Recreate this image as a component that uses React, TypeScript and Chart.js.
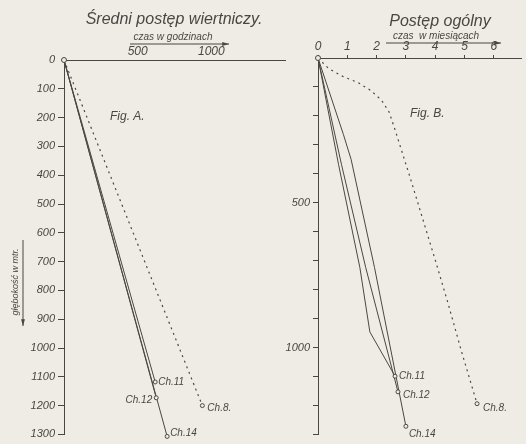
import React, { useEffect, useRef } from 'react';
import { Chart, registerables } from 'chart.js';

Chart.register(...registerables);

// ---------- data ----------
const wells = ['Ch.8.', 'Ch.11', 'Ch.12', 'Ch.14'];

// Fig. A – average drilling progress (hours vs depth, straight from origin)
const hoursA = [939, 619, 626, 700];
const depthA = [1200, 1118, 1173, 1307];

// Fig. B – overall progress (months vs depth)
const ch8Months = [0, 0.37, 0.87, 1.37, 1.8, 2.17, 2.43, 2.63, 3.13, 3.57, 4.03, 4.43, 4.9, 5.43];
const ch8Depth = [0, 37, 65, 85, 112, 146, 187, 248, 408, 554, 707, 844, 1014, 1194];
const ch11Months = [0, 0.7, 1.43, 1.77, 2.63];
const ch11Depth = [0, 367, 724, 946, 1099];
const ch12Months = [0, 0.8, 1.63, 2.73];
const ch12Depth = [0, 367, 724, 1153];
const ch14Months = [0, 0.87, 1.13, 1.93, 3.0];
const ch14Depth = [0, 265, 350, 724, 1272];

// ticks
const hourTicks = [500, 1000];
const depthTicks = [0, 100, 200, 300, 400, 500, 600, 700, 800, 900, 1000, 1100, 1200, 1300];
const monthTicks = [0, 1, 2, 3, 4, 5, 6];
const depthLabelsB = [500, 1000];

// ---------- styles ----------
const INK = '#4a4644';
const PAPER = '#eeece4';
const FAM = "'Liberation Sans', Arial, sans-serif";
const italic = (size: number) => `italic ${size}px ${FAM}`;

// label offsets (style only)
const labelStyleA = [
  { dx: 5, dy: 3, align: 'left' },
  { dx: 3, dy: 0, align: 'left' },
  { dx: -4, dy: 2, align: 'right' },
  { dx: 3, dy: -3, align: 'left' },
];
const labelStyleB = [
  { dx: 6, dy: 5, align: 'left' },
  { dx: 4, dy: 0, align: 'left' },
  { dx: 5, dy: 3, align: 'left' },
  { dx: 3, dy: 8, align: 'left' },
];

function zip(xs: number[], ys: number[]) {
  return xs.map((x, i) => ({ x, y: ys[i] }));
}

function arrow(ctx: CanvasRenderingContext2D, x1: number, y1: number, x2: number, y2: number) {
  ctx.beginPath();
  ctx.moveTo(x1, y1);
  ctx.lineTo(x2, y2);
  ctx.stroke();
  const a = Math.atan2(y2 - y1, x2 - x1);
  const L = 7, W = 0.28;
  ctx.beginPath();
  ctx.moveTo(x2, y2);
  ctx.lineTo(x2 - L * Math.cos(a - W), y2 - L * Math.sin(a - W));
  ctx.lineTo(x2 - L * Math.cos(a + W), y2 - L * Math.sin(a + W));
  ctx.closePath();
  ctx.fill();
}

function pointLabels(chart: any, styles: any[]) {
  const ctx = chart.ctx as CanvasRenderingContext2D;
  ctx.save();
  ctx.fillStyle = INK;
  ctx.font = italic(10);
  ctx.textBaseline = 'middle';
  chart.data.datasets.forEach((ds: any, i: number) => {
    const meta = chart.getDatasetMeta(i);
    const last = meta.data[meta.data.length - 1];
    const st = styles[i];
    ctx.textAlign = st.align;
    ctx.fillText(ds.label, last.x + st.dx, last.y + st.dy);
  });
  ctx.restore();
}

function baseScales(opts: any) {
  return {
    x: {
      type: 'linear',
      position: 'top',
      min: 0,
      max: opts.xMax,
      afterBuildTicks: (s: any) => { s.ticks = opts.xTicks.map((v: number) => ({ value: v })); },
      afterFit: (s: any) => { s.height = opts.top; },
      grid: { drawOnChartArea: false, drawTicks: opts.xTickLen > 0, tickLength: opts.xTickLen, color: INK },
      border: { display: true, color: INK, width: 1 },
      ticks: {
        font: { family: FAM, size: 12, style: 'italic' },
        color: INK,
        padding: 1,
        maxRotation: 0,
        autoSkip: false,
        callback: (v: any) => String(v),
      },
    },
    y: {
      type: 'linear',
      reverse: true,
      min: 0,
      max: 1300,
      afterBuildTicks: (s: any) => { s.ticks = depthTicks.map((v) => ({ value: v })); },
      afterFit: (s: any) => { s.width = opts.left; },
      grid: {
        drawOnChartArea: false,
        drawTicks: true,
        tickLength: opts.yTickLen,
        color: (c: any) => (c.tick && c.tick.value === 0 ? 'rgba(0,0,0,0)' : INK),
      },
      border: { display: true, color: INK, width: 1 },
      ticks: {
        font: { family: FAM, size: 11, style: 'italic' },
        color: INK,
        padding: 3,
        autoSkip: false,
        callback: opts.yLabel,
      },
    },
  };
}

export default function App() {
  const refA = useRef<HTMLCanvasElement>(null);
  const refB = useRef<HTMLCanvasElement>(null);

  useEffect(() => {
    document.body.style.margin = '0';
    document.body.style.background = PAPER;

    const dsA = wells.map((w, i) => ({
      label: w,
      data: [{ x: 0, y: 0 }, { x: hoursA[i], y: depthA[i] }],
      showLine: true,
      borderColor: INK,
      borderWidth: i === 0 ? 1.2 : 1,
      borderDash: i === 0 ? [2, 4] : [],
      pointRadius: [i === 0 ? 2.5 : 0, 2],
      pointBackgroundColor: PAPER,
      pointBorderColor: INK,
      pointBorderWidth: 1,
      clip: false,
    }));

    const seriesB = [
      zip(ch8Months, ch8Depth),
      zip(ch11Months, ch11Depth),
      zip(ch12Months, ch12Depth),
      zip(ch14Months, ch14Depth),
    ];
    const dsB = wells.map((w, i) => ({
      label: w,
      data: seriesB[i],
      showLine: true,
      borderColor: INK,
      borderWidth: i === 0 ? 1.2 : 1,
      borderDash: i === 0 ? [2, 4] : [],
      pointRadius: seriesB[i].map((_, k) => (k === seriesB[i].length - 1 ? 2 : k === 0 && i === 0 ? 2.5 : 0)),
      pointBackgroundColor: PAPER,
      pointBorderColor: INK,
      pointBorderWidth: 1,
      clip: false,
    }));

    const decorA = {
      id: 'decorA',
      afterDraw(chart: any) {
        const ctx = chart.ctx as CanvasRenderingContext2D;
        ctx.save();
        ctx.fillStyle = INK;
        ctx.strokeStyle = INK;
        ctx.lineWidth = 1;
        ctx.textBaseline = 'middle';
        ctx.textAlign = 'center';
        ctx.font = italic(16);
        ctx.fillText('Średni postęp wiertniczy.', 174, 20);
        ctx.font = italic(10);
        ctx.fillText('czas w godzinach', 173, 37);
        arrow(ctx, 130, 44, 229, 44);
        ctx.textAlign = 'left';
        ctx.font = italic(12);
        ctx.fillText('Fig. A.', 110, 117);
        // vertical axis caption
        ctx.save();
        ctx.translate(15, 282);
        ctx.rotate(-Math.PI / 2);
        ctx.textAlign = 'center';
        ctx.font = italic(9);
        ctx.fillText('głębokość w mtr.', 0, 0);
        ctx.restore();
        arrow(ctx, 23, 240, 23, 326);
        ctx.restore();
        pointLabels(chart, labelStyleA);
      },
    };

    const OX = 280;
    const decorB = {
      id: 'decorB',
      afterDraw(chart: any) {
        const ctx = chart.ctx as CanvasRenderingContext2D;
        ctx.save();
        ctx.fillStyle = INK;
        ctx.strokeStyle = INK;
        ctx.lineWidth = 1;
        ctx.textBaseline = 'middle';
        ctx.textAlign = 'center';
        ctx.font = italic(16);
        ctx.fillText('Postęp ogólny', 440 - OX, 22);
        ctx.font = italic(10);
        ctx.fillText('czas  w miesiącach', 436 - OX, 36);
        arrow(ctx, 386 - OX, 43, 501 - OX, 43);
        ctx.textAlign = 'left';
        ctx.font = italic(12);
        ctx.fillText('Fig. B.', 410 - OX, 114);
        ctx.restore();
        pointLabels(chart, labelStyleB);
      },
    };

    const common = {
      animation: false,
      responsive: false,
      events: [],
      plugins: { legend: { display: false }, tooltip: { enabled: false }, title: { display: false } },
    };

    const chartA = new Chart(refA.current as HTMLCanvasElement, {
      type: 'scatter',
      data: { datasets: dsA as any },
      options: {
        ...common,
        layout: { padding: { left: 0, top: 0, right: 5, bottom: 6 } },
        scales: baseScales({
          xMax: 1500,
          xTicks: hourTicks,
          top: 60,
          left: 64,
          xTickLen: 0,
          yTickLen: 6,
          yLabel: (v: any) => String(v),
        }) as any,
      } as any,
      plugins: [decorA],
    });

    const chartB = new Chart(refB.current as HTMLCanvasElement, {
      type: 'scatter',
      data: { datasets: dsB as any },
      options: {
        ...common,
        layout: { padding: { left: 0, top: 0, right: 0, bottom: 5 } },
        scales: baseScales({
          xMax: 6.93,
          xTicks: monthTicks,
          top: 58,
          left: 38,
          xTickLen: 3,
          yTickLen: 5,
          yLabel: (v: any) => (depthLabelsB.includes(v) ? String(v) : ''),
        }) as any,
      } as any,
      plugins: [decorB],
    });

    return () => {
      chartA.destroy();
      chartB.destroy();
    };
  }, []);

  return (
    <div style={{ position: 'fixed', left: 0, top: 0, width: 526, height: 444, background: PAPER, overflow: 'hidden' }}>
      <canvas ref={refA} width={290} height={444} style={{ position: 'absolute', left: 0, top: 0 }} />
      <canvas ref={refB} width={246} height={444} style={{ position: 'absolute', left: 280, top: 0 }} />
    </div>
  );
}
